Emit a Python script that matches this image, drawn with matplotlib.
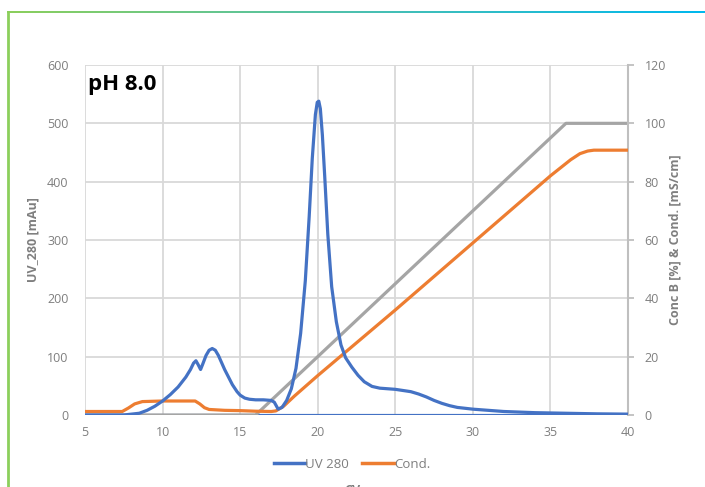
import matplotlib
matplotlib.use("Agg")
import matplotlib.pyplot as plt
import numpy as np
from matplotlib.lines import Line2D
from matplotlib.colors import LinearSegmentedColormap

plt.rcParams['font.family'] = ['Open Sans', 'DejaVu Sans']

# UV 280 trace (mAU) vs CV
uv_x = [5, 7.5, 8.5, 9, 9.5, 10, 10.5, 11, 11.5, 11.8, 12.0, 12.15, 12.3, 12.45, 12.6, 12.8,
        13.0, 13.2, 13.4, 13.6, 13.8, 14, 14.5, 14.8, 15, 15.3, 15.6, 16, 16.5, 17, 17.2,
        17.45, 17.7, 18.0, 18.3, 18.6, 18.9, 19.2, 19.45, 19.65, 19.85, 19.97, 20.07, 20.17,
        20.3, 20.45, 20.65, 20.9, 21.2, 21.5, 21.8, 22.2, 22.6, 23, 23.5, 24, 25, 26, 26.5,
        27, 27.5, 28, 28.5, 29, 30, 31, 32, 34, 36, 38, 40]
uv_y = [0, 0, 3, 8, 15, 24, 35, 48, 65, 78, 89, 93, 86, 78, 88, 102,
        111, 114, 111, 102, 90, 78, 52, 40, 34, 29, 27, 26, 26, 25, 22,
        10, 13, 25, 45, 80, 140, 230, 340, 440, 515, 536, 538, 525,
        480, 410, 310, 220, 160, 120, 98, 82, 68, 57, 49, 46, 44, 40, 36,
        31, 25, 20, 16, 13, 10, 8, 6, 4, 3, 2, 1.5]

# Conductivity (mS/cm)
cond_x = [5, 7.4, 7.8, 8.2, 8.7, 10, 12.1, 12.4, 12.7, 13.0, 14, 15, 16, 17, 17.3, 17.8, 18.5,
          20, 25, 30, 35, 36.3, 36.9, 37.4, 37.8, 38.2, 40]
cond_y = [1.2, 1.2, 2.4, 3.8, 4.6, 4.8, 4.8, 3.8, 2.5, 1.9, 1.6, 1.5, 1.3, 1.2, 1.4, 3.0, 6.5,
          13.5, 36, 59, 82, 87.5, 89.6, 90.5, 90.8, 90.8, 90.8]

# Conc B (%)
concb_x = [5, 16, 36, 40]
concb_y = [0, 0, 100, 100]

# zero baseline series
base_x = [5, 40]
base_y = [0, 0]

x_ticks = [5, 10, 15, 20, 25, 30, 35, 40]
y_ticks = [0, 100, 200, 300, 400, 500, 600]
y2_ticks = [0, 20, 40, 60, 80, 100, 120]

BLUE = '#4472c4'
ORANGE = '#ed7d31'
GRAY = '#a5a5a5'
GRID = '#d9d9d9'
TXT = '#7f7f7f'

W, H = 705, 487
fig = plt.figure(figsize=(W / 100, H / 100), dpi=100)

ax = fig.add_axes([85 / W, 1 - 415 / H, (628 - 85) / W, (415 - 65) / H])
ax2 = ax.twinx()

ax.set_xlim(5, 40)
ax.set_ylim(0, 600)
ax2.set_ylim(0, 120)
ax.set_xticks(x_ticks)
ax.set_yticks(y_ticks)
ax2.set_yticks(y2_ticks)

ax.grid(True, color=GRID, linewidth=1.3)
ax.set_axisbelow(True)
for s in ['top', 'right', 'bottom', 'left']:
    ax.spines[s].set_visible(False)
for s in ['top', 'left', 'bottom']:
    ax2.spines[s].set_visible(False)
ax2.spines['right'].set_color('#bfbfbf')
ax2.spines['right'].set_linewidth(1.5)

ax.tick_params(axis='both', length=0, labelsize=9, labelcolor=TXT, pad=12)
ax.tick_params(axis='x', pad=8)
ax2.tick_params(axis='y', length=4, color='#bfbfbf', width=1.3, labelsize=9,
                labelcolor=TXT, pad=8)

# lines
ax2.plot(base_x, [v / 5 for v in base_y], color=BLUE, lw=2.3, zorder=1, solid_capstyle='butt')
ax2.plot(concb_x, concb_y, color=GRAY, lw=2.3, zorder=2, solid_capstyle='butt')
ax2.plot(cond_x, cond_y, color=ORANGE, lw=2.3, zorder=3, solid_capstyle='butt',
         solid_joinstyle='round')
ax2.plot(uv_x, [v / 5 for v in uv_y], color=BLUE, lw=2.3, zorder=4,
         solid_joinstyle='round')

ax.set_ylabel('UV_280 [mAu]', color=TXT, fontsize=9, fontweight='bold', labelpad=5)
ax2.set_ylabel('Conc B [%] & Cond. [mS/cm]', color=TXT, fontsize=9, fontweight='bold',
               labelpad=2)

ax.text(0.005, 0.975, 'pH 8.0', transform=ax.transAxes, fontsize=16, fontweight='bold',
        color='black', va='top', ha='left')

# legend
handles = [Line2D([0], [0], color=BLUE, lw=2.5), Line2D([0], [0], color=ORANGE, lw=2.5)]
fig.legend(handles, ['UV 280', 'Cond.'], loc='center', bbox_to_anchor=(352 / W, 1 - 464 / H),
           ncol=2, frameon=False, fontsize=9.5, handlelength=2.4, handletextpad=0.0,
           columnspacing=1.0, labelcolor=TXT)

fig.text(352 / W, 1 - 491 / H, 'CV', color=TXT, fontsize=9, fontweight='bold',
         ha='center', va='center')

# border: left green line and top gradient line
fig.add_artist(Line2D([8 / W, 8 / W], [0, 1 - 12 / H], color='#8ccf5c', lw=2,
                      transform=fig.transFigure))
gax = fig.add_axes([7 / W, 1 - 13.5 / H, (W - 7) / W, 2.5 / H])
grad = np.linspace(0, 1, 256).reshape(1, -1)
cm = LinearSegmentedColormap.from_list('g', ['#8ccf5c', '#4cc0b0', '#00b8ee'])
gax.imshow(grad, aspect='auto', cmap=cm)
gax.axis('off')

fig.savefig('out.png', dpi=100)
